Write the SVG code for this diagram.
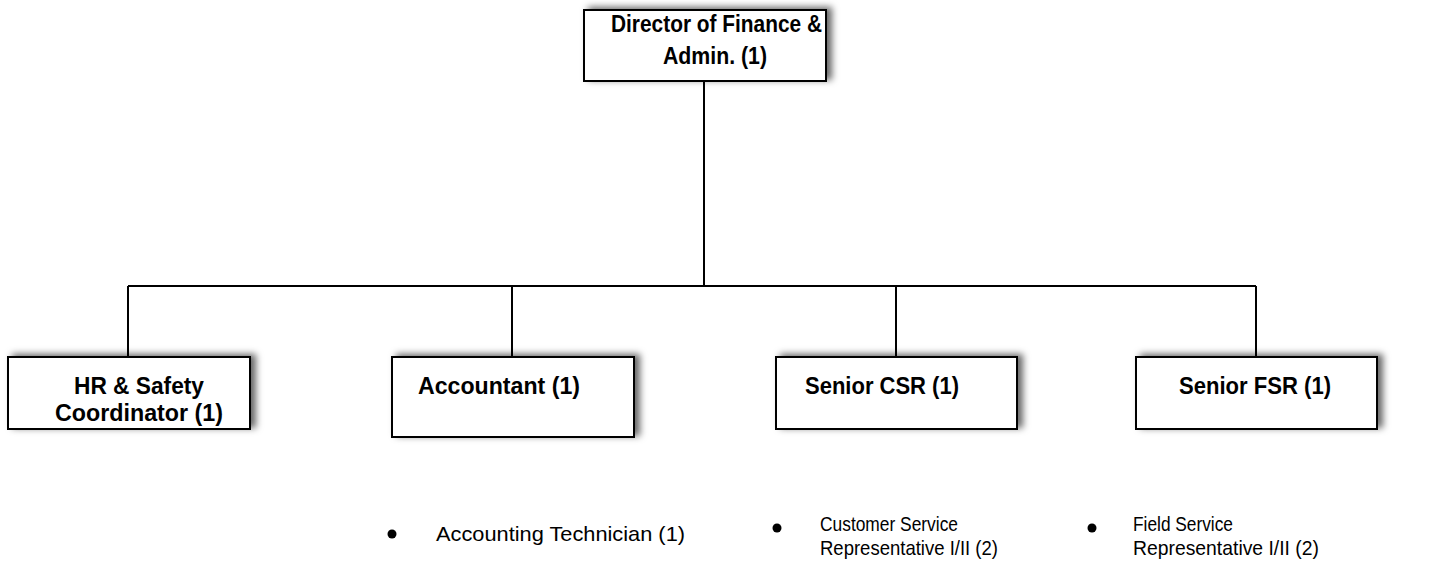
<svg xmlns="http://www.w3.org/2000/svg" width="1433" height="574" viewBox="0 0 1433 574">
  <defs>
    <filter id="shadow" x="-10%" y="-30%" width="125%" height="160%">
      <feDropShadow dx="5" dy="-2" stdDeviation="3.5" flood-color="#000" flood-opacity="0.6"/>
    </filter>
  </defs>
  <style>
    .box { fill: #fff; stroke: #000; stroke-width: 2; filter: url(#shadow); }
    .title { font-family: "Liberation Sans", Arial, sans-serif; font-weight: bold; font-size: 24px; fill: #000; text-anchor: middle; }
    .item { font-family: "Liberation Sans", Arial, sans-serif; font-size: 21px; fill: #000; }
    .link { stroke: #000; stroke-width: 2; fill: none; }
    .dot { fill: #000; }
  </style>
  <rect width="1433" height="574" fill="#fff"/>

  <!-- reporting lines -->
  <g id="connectors">
    <path class="link" d="M704 81 V286"/>
    <path class="link" d="M128 286 H1256"/>
    <path class="link" d="M128 286 V357"/>
    <path class="link" d="M512 286 V357"/>
    <path class="link" d="M896 286 V357"/>
    <path class="link" d="M1256 286 V357"/>
  </g>

  <g id="director">
    <rect class="box" x="584" y="10" width="242" height="71"/>
    <text class="title" x="716.5" y="32" textLength="211" lengthAdjust="spacingAndGlyphs">Director of Finance &amp;</text>
    <text class="title" x="715" y="64" textLength="104" lengthAdjust="spacingAndGlyphs">Admin. (1)</text>
  </g>

  <g id="hr-safety">
    <rect class="box" x="8" y="357" width="242" height="72"/>
    <text class="title" x="139" y="394" textLength="130" lengthAdjust="spacingAndGlyphs">HR &amp; Safety</text>
    <text class="title" x="139" y="421" textLength="168" lengthAdjust="spacingAndGlyphs">Coordinator (1)</text>
  </g>

  <g id="accountant">
    <rect class="box" x="392" y="357" width="242" height="80"/>
    <text class="title" x="499" y="394" textLength="162" lengthAdjust="spacingAndGlyphs">Accountant (1)</text>
  </g>

  <g id="senior-csr">
    <rect class="box" x="776" y="357" width="241" height="72"/>
    <text class="title" x="882" y="394" textLength="154" lengthAdjust="spacingAndGlyphs">Senior CSR (1)</text>
  </g>

  <g id="senior-fsr">
    <rect class="box" x="1136" y="357" width="241" height="72"/>
    <text class="title" x="1255" y="394" textLength="152" lengthAdjust="spacingAndGlyphs">Senior FSR (1)</text>
  </g>

  <!-- staff under each senior position -->
  <g id="accounting-technician">
    <circle class="dot" cx="392" cy="534" r="4.5"/>
    <text class="item" x="436" y="541" textLength="249" lengthAdjust="spacingAndGlyphs">Accounting Technician (1)</text>
  </g>

  <g id="customer-service-rep">
    <circle class="dot" cx="777" cy="528" r="4.5"/>
    <text class="item" x="820" y="531" textLength="138" lengthAdjust="spacingAndGlyphs">Customer Service</text>
    <text class="item" x="820" y="555" textLength="178" lengthAdjust="spacingAndGlyphs">Representative I/II (2)</text>
  </g>

  <g id="field-service-rep">
    <circle class="dot" cx="1092" cy="528" r="4.5"/>
    <text class="item" x="1133" y="531" textLength="100" lengthAdjust="spacingAndGlyphs">Field Service</text>
    <text class="item" x="1133" y="555" textLength="186" lengthAdjust="spacingAndGlyphs">Representative I/II (2)</text>
  </g>
</svg>
